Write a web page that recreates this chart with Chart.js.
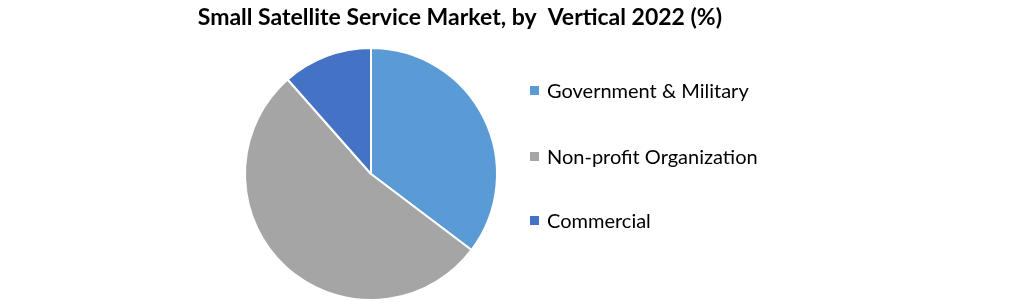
<!DOCTYPE html>
<html>
<head>
<meta charset="utf-8">
<script src="https://cdn.jsdelivr.net/npm/chart.js@4.4.0/dist/chart.umd.min.js"></script>
<style>
  body { margin: 0; background: #fff; }
  #wrap { position: relative; width: 1021px; height: 304px; }
  #chartBox { position: absolute; left: 0; top: 0; width: 1021px; height: 304px; }
  #legend { position: absolute; left: 530px; top: 0; margin: 0; padding: 0; list-style: none;
            font-family: Lato, sans-serif; font-size: 20px; color: #000; }
  #legend li { position: absolute; white-space: nowrap; display: flex; align-items: center; }
  #legend span { display: inline-block; width: 9px; height: 9px; margin-right: 8px; }
</style>
</head>
<body>
<div id="wrap">
  <div id="chartBox"><canvas id="pieChart"></canvas></div>
  <ul id="legend"></ul>
</div>
<script>
const categories = ['Government & Military', 'Non-profit Organization', 'Commercial'];
const shares = [35.3, 53.2, 11.5];
const colors = ['#5B9BD5', '#A5A5A5', '#4472C4'];

const ctx = document.getElementById('pieChart').getContext('2d');
const pieChart = new Chart(ctx, {
    type: 'pie',
    data: {
        labels: categories,
        datasets: [{
            data: shares,
            backgroundColor: colors,
            borderColor: '#fff',
            borderWidth: 2
        }]
    },
    options: {
        responsive: true,
        maintainAspectRatio: false,
        animation: false,
        layout: {
            padding: { left: 20, right: 299, top: 0, bottom: 3 }
        },
        plugins: {
            title: {
                display: true,
                align: 'end',
                text: 'Small Satellite Service Market, by  Vertical 2022 (%)',
                color: '#000',
                font: { family: 'Lato', size: 23, weight: 'bold' },
                padding: { top: 4, bottom: 15.4 }
            },
            legend: { display: false },
            tooltip: { enabled: false }
        }
    }
});

// legend built from the same arrays
const legendEl = document.getElementById('legend');
const legendTops = [78, 144, 208];
categories.forEach((name, i) => {
    const li = document.createElement('li');
    li.style.top = legendTops[i] + 'px';
    const box = document.createElement('span');
    box.style.background = colors[i];
    li.appendChild(box);
    li.appendChild(document.createTextNode(name));
    legendEl.appendChild(li);
});
</script>
</body>
</html>
